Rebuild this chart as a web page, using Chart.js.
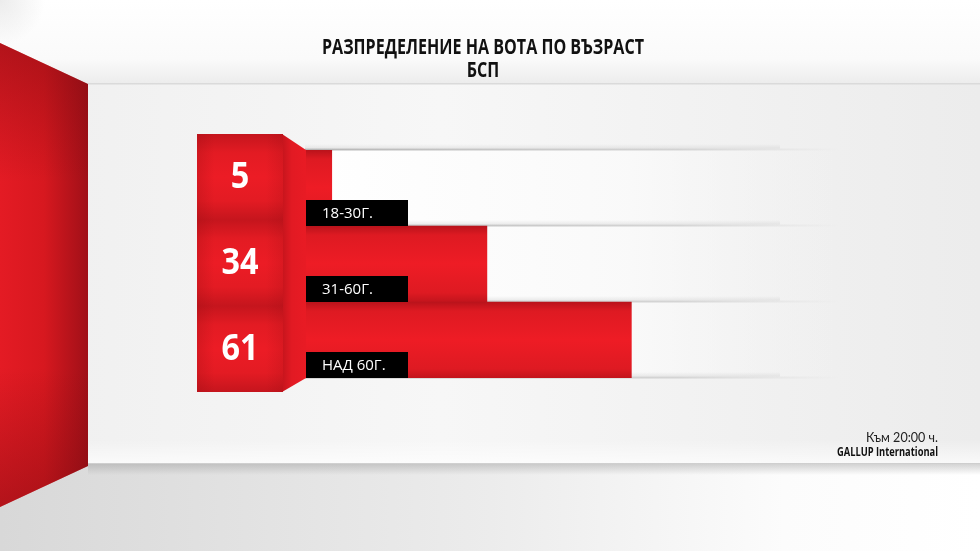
<!DOCTYPE html>
<html>
<head>
<meta charset="utf-8">
<script src="https://cdn.jsdelivr.net/npm/chart.js@4"></script>
<style>
    body { margin: 0; background: #f2f2f2; }
    canvas { display: block; }
</style>
</head>
<body>
<canvas id="chart" width="980" height="551"></canvas>
<script>
const titleLines = ['РАЗПРЕДЕЛЕНИЕ НА ВОТА ПО ВЪЗРАСТ', 'БСП'];
const categories = ['18-30Г.', '31-60Г.', 'НАД 60Г.'];
const values = [5, 34, 61];
const footerLines = ['Към 20:00 ч.', 'GALLUP International'];

// draws text squeezed horizontally to a target width (condensed look)
function fitText(ctx, text, x, y, width, align) {
    const w = ctx.measureText(text).width;
    const sx = Math.min(1, width / w);
    ctx.save();
    ctx.translate(x, y);
    ctx.scale(sx, 1);
    ctx.textAlign = align;
    ctx.fillText(text, 0, 0);
    ctx.restore();
    return sx;
}

const backdrop = {
    id: 'backdrop',
    beforeDraw(chart) {
        const ctx = chart.ctx;
        const W = chart.width, H = chart.height;
        const {chartArea, scales} = chart;

        // wall
        let g = ctx.createLinearGradient(0, 0, W, 0);
        g.addColorStop(0, '#efefef');
        g.addColorStop(0.45, '#f7f7f7');
        g.addColorStop(1, '#ececec');
        ctx.fillStyle = g;
        ctx.fillRect(0, 0, W, H);

        // ceiling
        g = ctx.createLinearGradient(0, 0, 0, 84);
        g.addColorStop(0, '#ffffff');
        g.addColorStop(0.7, '#fafafa');
        g.addColorStop(1, '#ececec');
        ctx.fillStyle = g;
        ctx.fillRect(0, 0, W, 84);
        g = ctx.createRadialGradient(0, 0, 0, 0, 0, 45);
        g.addColorStop(0, 'rgba(200,200,200,0.35)');
        g.addColorStop(1, 'rgba(200,200,200,0)');
        ctx.fillStyle = g;
        ctx.fillRect(0, 0, 60, 60);
        ctx.fillStyle = '#dadada';
        ctx.fillRect(88, 83, W, 1.5);

        // floor
        g = ctx.createLinearGradient(0, 0, W, 0);
        g.addColorStop(0, '#d8d8d8');
        g.addColorStop(0.5, '#ececec');
        g.addColorStop(0.8, '#fcfcfc');
        g.addColorStop(1, '#ffffff');
        ctx.fillStyle = g;
        ctx.fillRect(0, 464, W, H - 464);
        g = ctx.createLinearGradient(0, 440, 0, 464);
        g.addColorStop(0, 'rgba(255,255,255,0)');
        g.addColorStop(1, 'rgba(255,255,255,0.7)');
        ctx.fillStyle = g;
        ctx.fillRect(88, 440, W, 24);
        g = ctx.createLinearGradient(0, 463, 0, 475);
        g.addColorStop(0, 'rgba(150,150,150,0.45)');
        g.addColorStop(1, 'rgba(150,150,150,0)');
        ctx.fillStyle = g;
        ctx.fillRect(88, 463, W, 12);

        // red side wall
        ctx.beginPath();
        ctx.moveTo(0, 43);
        ctx.lineTo(88, 84);
        ctx.lineTo(88, 466);
        ctx.lineTo(0, 507);
        ctx.closePath();
        g = ctx.createLinearGradient(0, 0, 88, 0);
        g.addColorStop(0, '#e41b24');
        g.addColorStop(0.5, '#d7181f');
        g.addColorStop(1, '#a01018');
        ctx.fillStyle = g;
        ctx.fill();
        g = ctx.createLinearGradient(0, 43, 0, 507);
        g.addColorStop(0, 'rgba(120,10,15,0.45)');
        g.addColorStop(0.3, 'rgba(120,10,15,0)');
        g.addColorStop(0.7, 'rgba(120,10,15,0)');
        g.addColorStop(1, 'rgba(120,10,15,0.45)');
        ctx.fillStyle = g;
        ctx.fill();

        // white tracks behind each bar
        const band = chartArea.height / categories.length;
        const right = chartArea.right;
        categories.forEach((c, i) => {
            const yc = scales.y.getPixelForValue(i);
            const y0 = yc - band / 2;
            g = ctx.createLinearGradient(chartArea.left, 0, right, 0);
            g.addColorStop(0, 'rgba(255,255,255,1)');
            g.addColorStop(0.6, 'rgba(250,250,250,0.9)');
            g.addColorStop(1, 'rgba(245,245,245,0)');
            ctx.fillStyle = g;
            ctx.fillRect(chartArea.left, y0, right - chartArea.left, band);
        });
        for (let i = 0; i <= categories.length; i++) {
            const y = chartArea.top + band * i;
            g = ctx.createLinearGradient(chartArea.left, 0, right, 0);
            g.addColorStop(0, 'rgba(175,175,175,0.9)');
            g.addColorStop(0.7, 'rgba(190,190,190,0.6)');
            g.addColorStop(1, 'rgba(200,200,200,0)');
            ctx.fillStyle = g;
            ctx.fillRect(chartArea.left, y - 1.5, right - chartArea.left, 2);
            g = ctx.createLinearGradient(0, y - 6, 0, y - 1.5);
            g.addColorStop(0, 'rgba(200,200,200,0)');
            g.addColorStop(1, 'rgba(200,200,200,0.35)');
            ctx.fillStyle = g;
            ctx.fillRect(chartArea.left, y - 6, right - chartArea.left - 60, 4.5);
        }
    }
};

const overlay = {
    id: 'overlay',
    afterDatasetsDraw(chart) {
        const ctx = chart.ctx;
        const {chartArea, scales} = chart;
        const n = categories.length;
        const band = chartArea.height / n;

        // front block holding the values
        const bx0 = chartArea.left - 108, bx1 = chartArea.left - 22;
        const by0 = chartArea.top - 16, by1 = chartArea.bottom + 14;
        const rowH = (by1 - by0) / n;

        // side face
        ctx.beginPath();
        ctx.moveTo(bx1 - 1, by0);
        ctx.lineTo(chartArea.left + 1, chartArea.top);
        ctx.lineTo(chartArea.left + 1, chartArea.bottom);
        ctx.lineTo(bx1 - 1, by1);
        ctx.closePath();
        let g = ctx.createLinearGradient(bx1, 0, chartArea.left, 0);
        g.addColorStop(0, '#c8151d');
        g.addColorStop(0.4, '#e21a23');
        g.addColorStop(1, '#e81b24');
        ctx.fillStyle = g;
        ctx.fill();

        values.forEach((v, i) => {
            const top = by0 + rowH * i;
            g = ctx.createLinearGradient(0, top, 0, top + rowH);
            g.addColorStop(0, '#c5151d');
            g.addColorStop(0.22, '#e31b23');
            g.addColorStop(0.5, '#ec1c25');
            g.addColorStop(0.78, '#e31b23');
            g.addColorStop(1, '#c5151d');
            ctx.fillStyle = g;
            ctx.fillRect(bx0, top, bx1 - bx0, rowH);
            g = ctx.createLinearGradient(bx0, 0, bx1, 0);
            g.addColorStop(0, 'rgba(150,12,18,0.25)');
            g.addColorStop(0.2, 'rgba(150,12,18,0)');
            g.addColorStop(0.8, 'rgba(150,12,18,0)');
            g.addColorStop(1, 'rgba(150,12,18,0.2)');
            ctx.fillStyle = g;
            ctx.fillRect(bx0, top, bx1 - bx0, rowH);

            ctx.fillStyle = '#ffffff';
            ctx.font = 'bold 36px "Open Sans"';
            ctx.textBaseline = 'middle';
            const w = ctx.measureText(String(v)).width;
            fitText(ctx, String(v), bx0 + (bx1 - bx0) / 2, top + rowH / 2 + 1, w * 0.9, 'center');
        });

        // category labels in black boxes
        categories.forEach((c, i) => {
            const y1 = scales.y.getPixelForValue(i) + band / 2;
            ctx.fillStyle = '#000000';
            ctx.fillRect(chartArea.left + 1, y1 - 26, 102, 26);
            ctx.fillStyle = '#ffffff';
            ctx.font = '15px "Open Sans"';
            ctx.textBaseline = 'middle';
            ctx.textAlign = 'left';
            ctx.fillText(c, chartArea.left + 17, y1 - 12);
        });

        // title
        ctx.fillStyle = '#111111';
        ctx.textBaseline = 'alphabetic';
        ctx.font = 'bold 21px "Open Sans"';
        const sx = 322 / ctx.measureText(titleLines[0]).width;
        titleLines.forEach((t, i) => {
            const w = ctx.measureText(t).width * sx;
            fitText(ctx, t, 483, 54 + i * 23, w, 'center');
        });

        // footer note
        ctx.fillStyle = '#222222';
        ctx.font = '13px Lato';
        fitText(ctx, footerLines[0], 938, 442, 72, 'right');
        ctx.fillStyle = '#111111';
        ctx.font = 'bold 12px "Open Sans"';
        fitText(ctx, footerLines[1], 938, 456, 101, 'right');
    }
};

new Chart(document.getElementById('chart'), {
    type: 'bar',
    data: {
        labels: categories,
        datasets: [{
            data: values,
            borderWidth: 0,
            categoryPercentage: 1,
            barPercentage: 1,
            backgroundColor(context) {
                const chart = context.chart;
                const {chartArea, scales} = chart;
                if (!chartArea) return '#e81b24';
                const band = chartArea.height / categories.length;
                const yc = scales.y.getPixelForValue(context.dataIndex);
                const g = chart.ctx.createLinearGradient(0, yc - band / 2, 0, yc + band / 2);
                g.addColorStop(0, '#b9131b');
                g.addColorStop(0.12, '#de1a22');
                g.addColorStop(0.5, '#ee1c25');
                g.addColorStop(0.88, '#de1a22');
                g.addColorStop(1, '#c2141c');
                return g;
            }
        }]
    },
    options: {
        indexAxis: 'y',
        responsive: false,
        animation: false,
        layout: {padding: {left: 305, right: 140, top: 150, bottom: 173}},
        scales: {
            x: {display: false, min: 0, max: 100},
            y: {display: false}
        },
        plugins: {
            legend: {display: false},
            tooltip: {enabled: false}
        }
    },
    plugins: [backdrop, overlay]
});
</script>
</body>
</html>
